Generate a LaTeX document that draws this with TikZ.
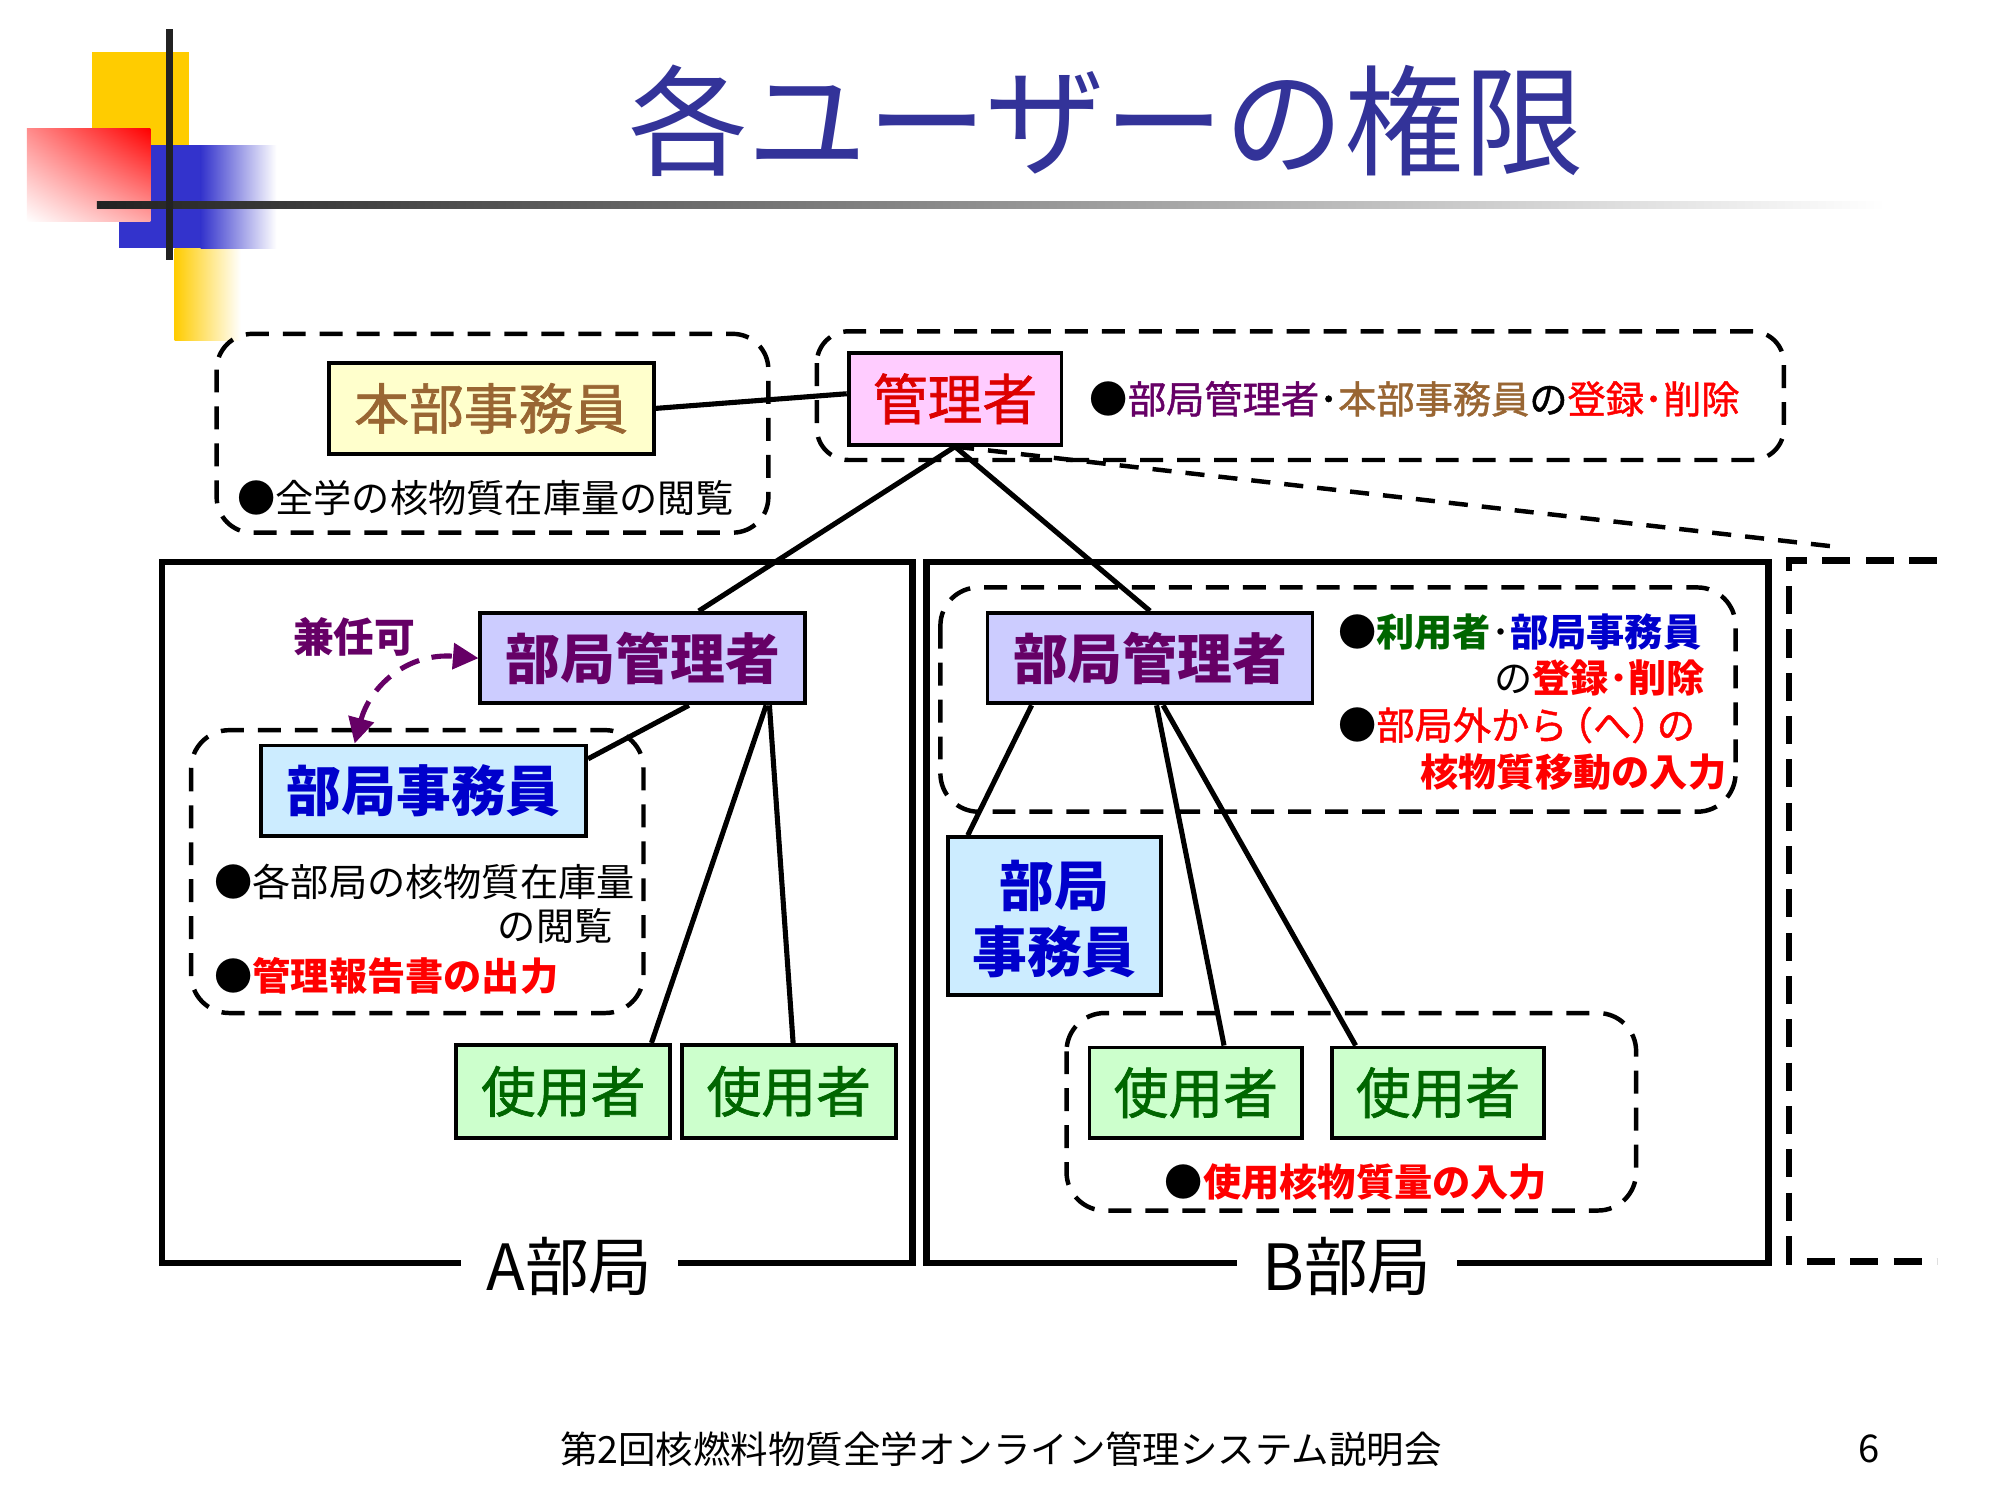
\documentclass[tikz,border=0pt]{standalone}
\usepackage{fontspec}
\setmainfont{Noto Sans CJK JP}
\newfontfamily\medjp{Noto Sans CJK JP}[FakeBold=1.2]
\usetikzlibrary{arrows.meta,calc,shadings}
\definecolor{titleblue}{HTML}{333399}
\definecolor{kbrown}{HTML}{996633}
\definecolor{kpurple}{HTML}{660066}
\definecolor{kblue}{HTML}{0000CC}
\definecolor{kgreen}{HTML}{006600}
\definecolor{kred}{HTML}{FF0000}
\definecolor{kdred}{HTML}{DD0000}
\definecolor{fyellow}{HTML}{FFFFCC}
\definecolor{fpink}{HTML}{FFCCFF}
\definecolor{flav}{HTML}{CCCCFF}
\definecolor{fsky}{HTML}{CCECFF}
\definecolor{fgreen}{HTML}{CCFFCC}
\definecolor{lyellow}{HTML}{FFCC00}
\definecolor{lblue}{HTML}{3333CC}
\definecolor{ldark}{HTML}{222222}
\newcommand\myfs[1]{\fontsize{#1}{#1}\selectfont}
\begin{document}
\begin{tikzpicture}[x=1pt,y=-1pt,
  rolebox/.style={draw=black,line width=3pt,inner sep=0pt,font=\myfs{43}\medjp},
  boldbox/.style={rolebox,font=\myfs{43}\bfseries},
  dashbox/.style={draw=black,line width=3.5pt,dash pattern=on 18pt off 11pt,rounded corners=28pt},
  conn/.style={draw=black,line width=4pt},
  dept/.style={draw=black,line width=5pt},
  deptlabel/.style={fill=white,inner xsep=20pt,inner ysep=2pt,font=\myfs{50}},
  note/.style={inner sep=0pt,font=\myfs{30}}]
\useasboundingbox (0,0) rectangle (1568,1171);
\fill[white] (0,0) rectangle (1568,1171);
% logo
\fill[lyellow] (72,41) rectangle (148,114);
\shade[left color=lyellow,right color=white] (137,195) rectangle (189,267);
\fill[lblue] (93,114) rectangle (158,195);
\shade[left color=lblue,right color=white] (157.5,114) rectangle (217,195);
\shade[upper right=red,upper left=red!45,lower left=white,lower right=red!35] (21,101) rectangle (118,174);
\shade[left color=ldark,right color=white] (76,158) rectangle (1480,164);
\fill[ldark] (130.5,23) rectangle (135.5,204);
% title
\node[inner sep=0pt,text=titleblue,font=\myfs{94}] (title) at (868,95) {各ユーザーの権限};
% dashed groups
\draw[dashbox] (170,262) rectangle (603,418);
\draw[dashbox,rounded corners=25pt] (641,260) rectangle (1400,361);
\draw[dashbox,rounded corners=30pt] (150,573) rectangle (505,795);
\draw[dashbox,rounded corners=30pt] (738,461) rectangle (1362,637);
\draw[dashbox,rounded corners=30pt] (837,795) rectangle (1284,950);
% departments
\draw[dept] (127,441) rectangle (716,991);
\draw[dept] (727,441) rectangle (1388,991);
\draw[black,line width=5pt,dash pattern=on 22pt off 12pt] (1520,440) -- (1404,440) -- (1404,990) -- (1520,990);
\node[deptlabel] (labA) at (447,994) {A部局};
\node[deptlabel] (labB) at (1057,994) {B部局};
% role boxes
\node[rolebox,fill=fyellow,text=kbrown,minimum width=255pt,minimum height=71pt] (honbu) at (385.5,320.5) {本部事務員};
\node[rolebox,fill=fpink,text=kdred,minimum width=167pt,minimum height=72pt] (kanri) at (749.5,313) {管理者};
\node[boldbox,fill=flav,text=kpurple,minimum width=255pt,minimum height=71pt] (kA) at (504.5,516.5) {部局管理者};
\node[boldbox,fill=fsky,text=kblue,minimum width=255pt,minimum height=71pt] (jA) at (332.5,620.5) {部局事務員};
\node[rolebox,fill=fgreen,text=kgreen,minimum width=168pt,minimum height=73pt] (uA1) at (442,856.5) {使用者};
\node[rolebox,fill=fgreen,text=kgreen,minimum width=168pt,minimum height=73pt] (uA2) at (619,856.5) {使用者};
\node[boldbox,fill=flav,text=kpurple,minimum width=255pt,minimum height=71pt] (kB) at (902.5,516.5) {部局管理者};
\node[boldbox,fill=fsky,text=kblue,minimum width=167pt,minimum height=124pt,align=center,text depth=-6pt] (jB) at (827.5,719) {部局\\[9pt]事務員};
\node[rolebox,fill=fgreen,text=kgreen,minimum width=167pt,minimum height=71pt] (uB1) at (938.5,857.5) {使用者};
\node[rolebox,fill=fgreen,text=kgreen,minimum width=167pt,minimum height=71pt] (uB2) at (1128.5,857.5) {使用者};
% connectors
\coordinate (cEnd) at (1440,429);
\draw[black,line width=3.5pt,dash pattern=on 15pt off 11pt] (kanri.south) -- (cEnd);
\draw[conn] (honbu.east) -- ([yshift=4pt]kanri.west);
\draw[conn] (kanri.south) -- ($(kA.north west)!0.67!(kA.north east)$);
\draw[conn] (kanri.south) -- (kB.north);
\draw[conn] ($(kA.south west)!0.64!(kA.south east)$) -- ($(jA.north east)+(0,12)$);
\draw[conn] ($(kA.south west)!0.875!(kA.south east)$) -- ($(uA1.north west)!0.905!(uA1.north east)$);
\draw[conn] ($(kA.south west)!0.885!(kA.south east)$) -- ($(uA2.north west)!0.52!(uA2.north east)$);
\draw[conn] ($(kB.south west)!0.14!(kB.south east)$) -- ($(jB.north west)!0.1!(jB.north east)$);
\draw[conn] ($(kB.south west)!0.52!(kB.south east)$) -- ($(uB1.north west)!0.63!(uB1.north east)$);
\draw[conn] ($(kB.south west)!0.54!(kB.south east)$) -- ($(uB2.north west)!0.12!(uB2.north east)$);
% kennin arrow
\node[inner sep=0pt,text=kpurple,font=\myfs{32}\bfseries] (kennin) at (278,500) {兼任可};
\draw[kpurple,line width=4pt,dash pattern=on 16pt off 10pt,{Triangle[length=20pt,width=20pt]}-{Triangle[length=20pt,width=20pt]}]
  ($(jA.north west)!0.29!(jA.north east)$) .. controls (290,540) and (318,512) .. (kA.west);
% notes
\node[note,anchor=west] (n1) at (186,391) {●全学の核物質在庫量の閲覧};
\node[note,anchor=west] (n2) at (855,313) {●\medjp\textcolor{kpurple}{部局管理者}･\textcolor{kbrown}{本部事務員}の\textcolor{kred}{登録･削除}};
\node[note,anchor=west] (n3) at (168,692) {●各部局の核物質在庫量};
\node[note,anchor=east] (n4) at (481,727) {の閲覧};
\node[note,anchor=west] (n5) at (168,766) {●\textcolor{kred}{\bfseries 管理報告書の出力}};
\node[note,anchor=west] (n6) at (1050,496) {●\textcolor{kgreen}{\bfseries 利用者}･\textcolor{kblue}{\bfseries 部局事務員}};
\node[note,anchor=east] (n7) at (1338,532) {の\textcolor{kred}{\bfseries 登録･削除}};
\node[note,anchor=west] (n8) at (1050,569) {●\textcolor{kred}{\medjp 部局外から\kern-10pt（へ）\kern-10pt の}};
\node[note,anchor=east] (n9) at (1355,606) {\textcolor{kred}{\bfseries 核物質移動の入力}};
\node[note,anchor=west] (n10) at (914,928) {●\textcolor{kred}{\bfseries 使用核物質量の入力}};
% footer
\node[inner sep=0pt,font=\myfs{29.4}] (footer) at (785.5,1137) {第2回核燃料物質全学オンライン管理システム説明会};
\node[inner sep=0pt,font=\myfs{30}] (pageno) at (1467,1137) {6};
\end{tikzpicture}
\end{document}
